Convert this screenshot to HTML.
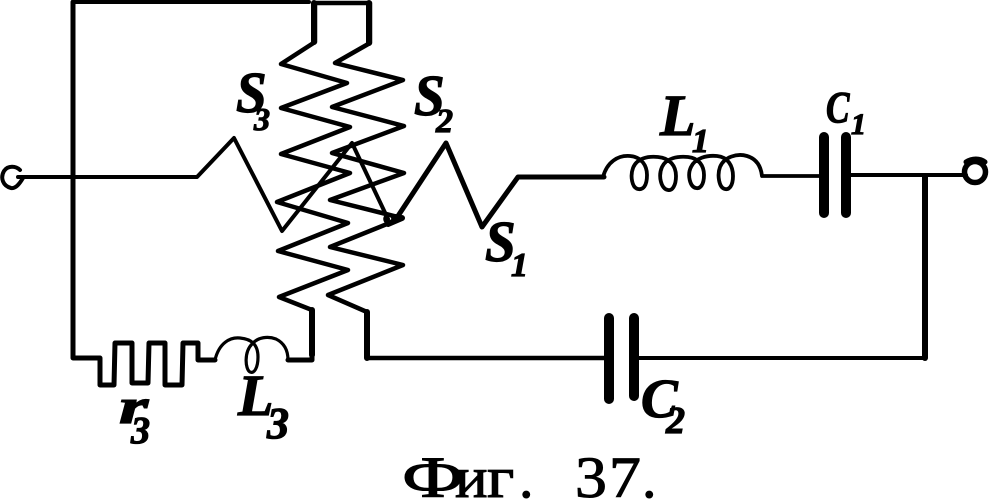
<!DOCTYPE html>
<html><head><meta charset="utf-8">
<style>
html,body{margin:0;padding:0;background:#fff}
svg{display:block}
text.l{font-family:"Liberation Serif",serif;font-style:italic;font-weight:bold;fill:#000;stroke:#000;stroke-width:1.2}
text.c{font-family:"Liberation Serif","Noto Serif CJK SC",serif;fill:#000;stroke:#000;stroke-width:1}
</style></head>
<body>
<svg width="990" height="500" viewBox="0 0 990 500" xmlns="http://www.w3.org/2000/svg">
<g fill="none" stroke="#000" stroke-linejoin="round" stroke-linecap="round">
<!-- outer left loop -->
<path stroke-width="4" d="M309 2H73"/>
<path stroke-width="5" d="M73 2V358H100V385H114L115 343H132V383H148L149 343H165V385H182L183 343H198V360H215"/>
<path stroke-width="3.2" d="M215 360C219 343 230 337 240 338C252 339 258 345 258 357C258 368 254 374 250 372C245 369 244 352 252 344C258 337 268 336 276 339C284 343 288 350 288 360"/>
<path stroke-width="5" d="M288 360H312V312"/>
<!-- S3 -->
<path stroke-width="4.5" d="M315 3V42L281 64L347 83L281 108L350 127L281 154L350 173L277 202L348 223L278 251L348 270L279 297L312 310"/>
<path stroke-width="6" d="M314 3V42M312 310V355"/>
<!-- S2 -->
<path stroke-width="4.5" d="M315 3H370V43L335 63L403 80L332 107L404 126L332 153L404 173L330 200L402 218L330 247L403 265L328 295L367 312V358H605"/>
<path stroke-width="6" d="M369 3V43M367 312V358M402 218L388 224"/>
<!-- S1 -->
<path stroke-width="4" d="M18 177H197L234 138L282 231L352 143L388 219"/>
<path stroke-width="5" d="M398 216L446 143L482 227L518 177H604"/>
<circle cx="389" cy="219" r="4" stroke-width="3.5"/>
<circle cx="396" cy="218" r="3" fill="#000" stroke-width="2"/>
<!-- terminals -->
<path stroke-width="4" d="M20 170C16 166 8 165 4 171C0 178 3 186 11 188C16 189 20 183 23 178"/>
<circle cx="975" cy="172" r="10.5" stroke-width="5.5"/>
<path stroke-width="5" d="M966 162C972 158 980 158 985 162"/>
<!-- L1 -->
<path stroke-width="3.8" d="M590 177H603C607 162 618 155 630 156C642 157 647 166 647 175C647 186 643 190 638 189C632 188 630 176 633 168C637 158 648 156 658 157C670 158 676 166 676 176C676 186 672 191 668 190C661 189 658 176 662 167C666 158 678 156 688 157C699 158 704 166 704 175C704 185 700 189 696 188C690 187 687 175 691 167C695 158 707 155 717 156C728 157 733 166 733 176C733 186 729 190 725 189C719 188 717 175 720 167C724 157 737 153 747 156C757 159 761 167 762 176H820"/>
<!-- C1 wire -->
<path stroke-width="4" d="M846 175H966M925 177V358H635"/>
<path stroke-width="6" d="M925 177V358"/>
<!-- caps -->
<path stroke-width="10" d="M824 137V213M846 137V213M609 318V399M634 318V396"/>
</g>
<text class="l" font-size="58" transform="translate(236,112) scale(.95,1)">S</text>
<text class="l" font-size="32" x="254" y="130">3</text>
<text class="l" font-size="58" transform="translate(414,115) scale(.95,1)">S</text>
<text class="l" font-size="34" x="436" y="132">2</text>
<text class="l" font-size="58" transform="translate(485,261) scale(.95,1)">S</text>
<text class="l" font-size="34" x="511" y="276">1</text>
<text class="l" font-size="58" x="660" y="135">L</text>
<text class="l" font-size="34" x="692" y="152">1</text>
<text class="l" font-size="44" transform="translate(826,122) scale(.8,1)">C</text>
<text class="l" font-size="30" x="851" y="134">1</text>
<text class="l" font-size="55" x="641" y="417">C</text>
<text class="l" font-size="38" x="666" y="433">2</text>
<text class="l" font-size="50" transform="translate(119,423) scale(1.5,1)">r</text>
<text class="l" font-size="38" x="131" y="443">3</text>
<text class="l" font-size="58" x="238" y="415">L</text>
<text class="l" font-size="44" x="267" y="438">3</text>
<text class="c" font-size="58" transform="translate(402,497) scale(1.35,1)">Ф</text>
<text class="c" font-size="58" transform="translate(455,497) scale(1.05,1)">и</text>
<text class="c" font-size="58" transform="translate(487,497) scale(1.15,1)">г</text>
<text class="c" font-size="58" x="519" y="497">.</text>
<text class="c" font-size="58" transform="translate(575,497) scale(1.1,1)">3</text>
<text class="c" font-size="58" transform="translate(609,497) scale(1.1,1)">7</text>
<text class="c" font-size="58" x="642" y="497">.</text>
</svg>
</body></html>
